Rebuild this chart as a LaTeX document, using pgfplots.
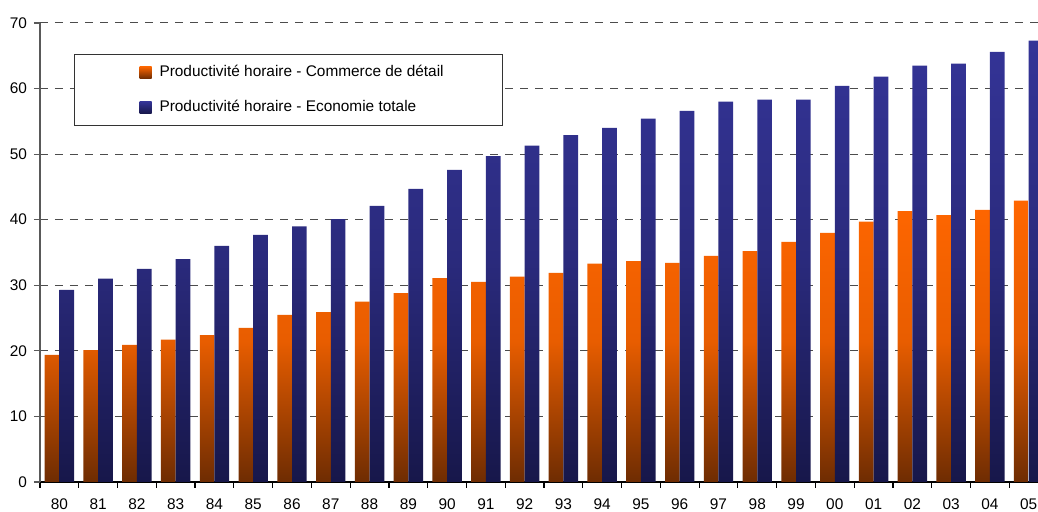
\documentclass[border=0pt]{standalone}
\usepackage{fontspec}
\setmainfont{Liberation Sans}
\usepackage{pgfplots}
\pgfplotsset{compat=1.18}
\definecolor{orTop}{HTML}{FF6600}
\definecolor{orMid}{HTML}{E85D00}
\definecolor{orBot}{HTML}{6E2C02}
\definecolor{blTop}{HTML}{343497}
\definecolor{blMid}{HTML}{2A2A7C}
\definecolor{blBot}{HTML}{17174A}
\begin{document}
\begin{tikzpicture}
\begin{axis}[
  at={(0,0)}, anchor=south west,
  x=19.385pt, y=3.2786pt,
  xmin=-0.5, xmax=25.24, ymin=0, ymax=70,
  font=\fontsize{7.7}{9.2}\selectfont,
  /pgf/number format/assume math mode=true,
  axis x line*=bottom, axis y line*=left,
  x axis line style={black, line width=0.6pt},
  y axis line style={black!65, line width=0.6pt},
  ytick={0,10,...,70},
  xtick={0,...,25},
  xticklabels={80,81,82,83,84,85,86,87,88,89,90,91,92,93,94,95,96,97,98,99,00,01,02,03,04,05},
  minor xtick={-0.5,0.5,...,25.5},
  major x tick style={draw=none},
  minor x tick style={black, line width=0.6pt},
  y tick style={black!65, line width=0.6pt},
  tick align=outside,
  major tick length=3pt, minor tick length=3pt,
  xticklabel style={yshift=-2pt},
  ymajorgrids,
  grid style={dash pattern=on 3.9pt off 3.6pt, black!70, line width=0.5pt},
  legend cell align=left,
  legend style={at={(0.03407,0.9325)}, anchor=north west, draw=black!80, line width=0.5pt, fill=white,
    inner xsep=27.5pt, inner ysep=3.5pt, row sep=6.5pt,
    nodes={inner sep=2pt, text height=5.5pt, text depth=1.5pt}},
]
\addplot[ybar, bar width=7.35pt, bar shift=-3.675pt, draw=none,
  top color=orTop, bottom color=orBot, middle color=orMid,
  legend image code/.code={\shade[top color=orTop, bottom color=orBot] (0pt,-3pt) rectangle (6pt,3pt); \path (-5pt,0pt) -- (8pt,0pt);}]
  coordinates {(0,19.4) (1,20.1) (2,20.9) (3,21.7) (4,22.4) (5,23.5) (6,25.5) (7,25.9) (8,27.5) (9,28.8) (10,31.1) (11,30.5) (12,31.3) (13,31.9) (14,33.3) (15,33.7) (16,33.4) (17,34.5) (18,35.2) (19,36.6) (20,38.0) (21,39.7) (22,41.3) (23,40.7) (24,41.5) (25,42.9)};
\addlegendentry{Productivité horaire - Commerce de détail}
\addplot[ybar, bar width=7.35pt, bar shift=3.675pt, draw=none,
  top color=blTop, bottom color=blBot, middle color=blMid,
  legend image code/.code={\shade[top color=blTop, bottom color=blBot] (0pt,-3pt) rectangle (6pt,3pt); \path (-5pt,0pt) -- (8pt,0pt);}]
  coordinates {(0,29.3) (1,31.0) (2,32.5) (3,34.0) (4,36.0) (5,37.7) (6,39.0) (7,40.1) (8,42.1) (9,44.7) (10,47.6) (11,49.7) (12,51.3) (13,52.9) (14,54.0) (15,55.4) (16,56.6) (17,58.0) (18,58.3) (19,58.3) (20,60.4) (21,61.8) (22,63.5) (23,63.8) (24,65.6) (25,67.3)};
\addlegendentry{Productivité horaire - Economie totale}
\end{axis}
\pgfresetboundingbox
\path[use as bounding box] (-20pt,-15pt) rectangle (499pt,241pt);
\end{tikzpicture}
\end{document}
